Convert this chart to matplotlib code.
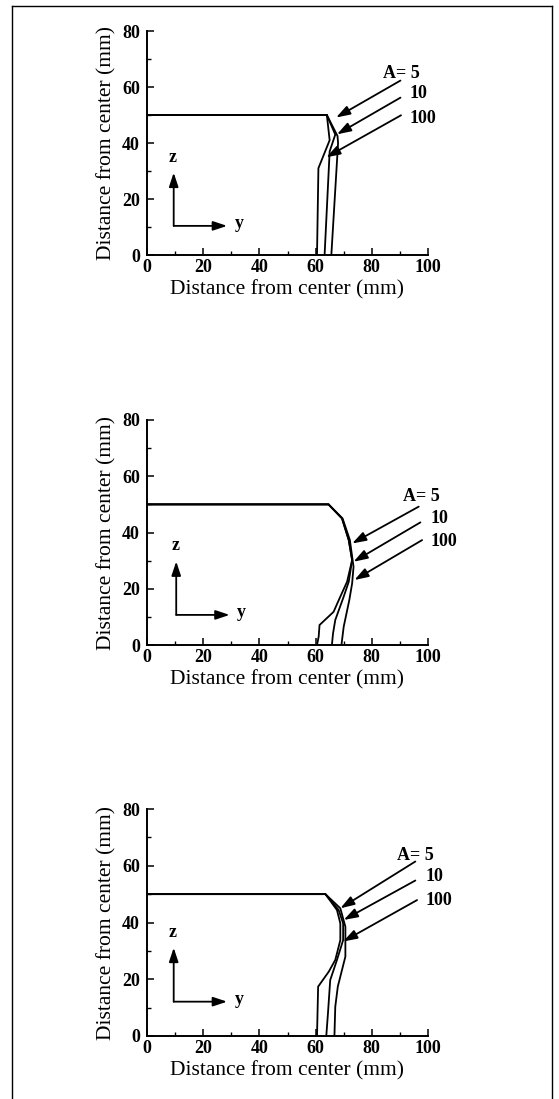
#! /usr/bin/env python3

import matplotlib
matplotlib.use("Agg")
import matplotlib.pyplot as plt
from matplotlib.lines import Line2D

# values (y = distance, z = height, in mm)
labels = ["A= 5", "10", "100"]
xticks = [0, 20, 40, 60, 80, 100]
yticks = [0, 20, 40, 60, 80]

p1_a5_y = [0, 64, 65, 61, 60.5]
p1_a5_z = [50, 50, 41, 31, 0]
p1_a10_y = [0, 64, 67, 65, 63.2]
p1_a10_z = [50, 50, 43, 37, 0]
p1_a100_y = [0, 64, 67.8, 68, 65.6]
p1_a100_z = [50, 50, 42.5, 40, 0]

p2_a5_y = [0, 64.6, 69.4, 71.8, 73, 71.2, 68.8, 66.4, 61.4, 61.1, 60.5]
p2_a5_z = [50, 50, 45, 37.3, 30.2, 22.5, 17.2, 11.8, 7.1, 3, 0]
p2_a10_y = [0, 64.6, 69.4, 71.8, 73, 71.8, 70, 67, 66.2, 65.8]
p2_a10_z = [50, 50, 45, 37.3, 30.2, 22.5, 17.2, 8.9, 4.1, 0]
p2_a100_y = [0, 64.6, 69.6, 72.2, 73.5, 73, 72, 70, 69.2]
p2_a100_z = [50, 50, 45, 37.3, 27.8, 21.9, 16, 6.5, 0]

p3_a5_y = [0, 63.5, 67.6, 68.8, 68.8, 67, 64.7, 60.9, 60.5]
p3_a5_z = [50, 50, 44.4, 39.7, 33.8, 26.8, 22.7, 17.4, 0]
p3_a10_y = [0, 63.5, 68.2, 69.8, 69.8, 67.6, 65.2, 64.4, 63.8]
p3_a10_z = [50, 50, 44.4, 39.7, 33.8, 26.8, 19.7, 8, 0]
p3_a100_y = [0, 63.5, 68.8, 70.6, 70.6, 67.9, 67, 66.7]
p3_a100_z = [50, 50, 45, 38.5, 28, 17.4, 10.3, 0]

# arrow tails / heads and label positions, per panel
p1_tail = [(90.2, 62.3), (90.2, 56.2), (90.4, 49.9)]
p1_head = [(67.3, 49.1), (67.6, 43.1), (63.8, 34.9)]
p1_text = [(83.9, 65), (93.5, 57.8), (93.5, 48.8)]

p2_tail = [(96.7, 49.2), (97.3, 43.6), (97.9, 37.3)]
p2_head = [(73, 36.1), (73.5, 29.6), (73.8, 23.1)]
p2_text = [(91.1, 52.7), (100.8, 45), (100.8, 36.7)]

p3_tail = [(95.5, 61.5), (95.5, 54.8), (96.1, 47.9)]
p3_head = [(68.8, 45), (70, 40.9), (69.8, 33.3)]
p3_text = [(89, 63.6), (99, 56.2), (99, 47.6)]

# small z/y direction sign
p1_origin = (9.5, 10.4)
p2_origin = (10.4, 10.7)
p3_origin = (9.5, 12.1)

serif = ["Liberation Serif", "DejaVu Serif"]
head = "-|>,head_length=0.6,head_width=0.2"


def draw_panel(ax, curves, tails, heads, texts, origin):
	for ys, zs in curves:
		ax.plot(ys, zs, color="black", lw=1.3, solid_joinstyle="miter")

	for lab, t, h, p in zip(labels, tails, heads, texts):
		ax.annotate("", xy=h, xytext=t,
			arrowprops=dict(arrowstyle=head, color="black", lw=1.3,
				mutation_scale=14, shrinkA=0, shrinkB=0))
		ax.text(p[0], p[1], lab, family=serif, fontweight="bold",
			fontsize=13, ha="left", va="center", clip_on=False)

	# coordinate sign
	ox, oz = origin
	ax.annotate("", xy=(ox, oz + 19), xytext=(ox, oz),
		arrowprops=dict(arrowstyle=head, color="black", lw=1.3,
			mutation_scale=14, shrinkA=0, shrinkB=0))
	ax.annotate("", xy=(ox + 19, oz), xytext=(ox, oz),
		arrowprops=dict(arrowstyle=head, color="black", lw=1.3,
			mutation_scale=14, shrinkA=0, shrinkB=0))
	ax.text(ox - 0.3, oz + 24.5, "z", family=serif, fontweight="bold",
		fontsize=13, ha="center", va="center")
	ax.text(ox + 23.3, oz + 0.8, "y", family=serif, fontweight="bold",
		fontsize=13, ha="center", va="center")

	ax.set_xlim(0, 100)
	ax.set_ylim(0, 80)
	ax.set_xticks(xticks)
	ax.set_yticks(yticks)
	ax.set_xticks([10, 30, 50, 70, 90], minor=True)
	ax.set_yticks([10, 30, 50, 70], minor=True)
	ax.spines["top"].set_visible(False)
	ax.spines["right"].set_visible(False)
	for s in ("left", "bottom"):
		ax.spines[s].set_linewidth(1.4)
	ax.tick_params(axis="x", which="major", direction="in", length=5, width=1.1, pad=3)
	ax.tick_params(axis="y", which="major", direction="in", length=5, width=1.1, pad=5)
	ax.tick_params(which="minor", direction="in", length=3, width=1.0)
	for t in ax.get_xticklabels() + ax.get_yticklabels():
		t.set_family(serif)
		t.set_fontweight("bold")
		t.set_fontsize(13)
	ax.set_xlabel("Distance from center (mm)", family=serif, fontsize=15.5, labelpad=3)
	ax.set_ylabel("Distance from center (mm)", family=serif, fontsize=15.5, labelpad=4)


def main():
	fig = plt.figure(figsize=(5.59, 10.99), dpi=100)

	left = 147 / 559
	width = (428 - 147) / 559
	ax1 = fig.add_axes([left, 1 - 255 / 1099, width, 224 / 1099])
	ax2 = fig.add_axes([left, 1 - 645 / 1099, width, 225 / 1099])
	ax3 = fig.add_axes([left, 1 - 1036 / 1099, width, 227 / 1099])

	draw_panel(ax1, [(p1_a5_y, p1_a5_z), (p1_a10_y, p1_a10_z), (p1_a100_y, p1_a100_z)],
		p1_tail, p1_head, p1_text, p1_origin)
	draw_panel(ax2, [(p2_a5_y, p2_a5_z), (p2_a10_y, p2_a10_z), (p2_a100_y, p2_a100_z)],
		p2_tail, p2_head, p2_text, p2_origin)
	draw_panel(ax3, [(p3_a5_y, p3_a5_z), (p3_a10_y, p3_a10_z), (p3_a100_y, p3_a100_z)],
		p3_tail, p3_head, p3_text, p3_origin)

	# outer frame, open at the bottom
	x0, x1 = 12 / 559, 552 / 559
	ytop = 1 - 6 / 1099
	for xs, ys in (([x0, x0], [0, ytop]), ([x0, x1], [ytop, ytop]), ([x1, x1], [ytop, 0])):
		fig.add_artist(Line2D(xs, ys, transform=fig.transFigure, color="black", lw=1.0))

	fig.savefig("out.png", dpi=100)


if __name__ == "__main__":
	main()
